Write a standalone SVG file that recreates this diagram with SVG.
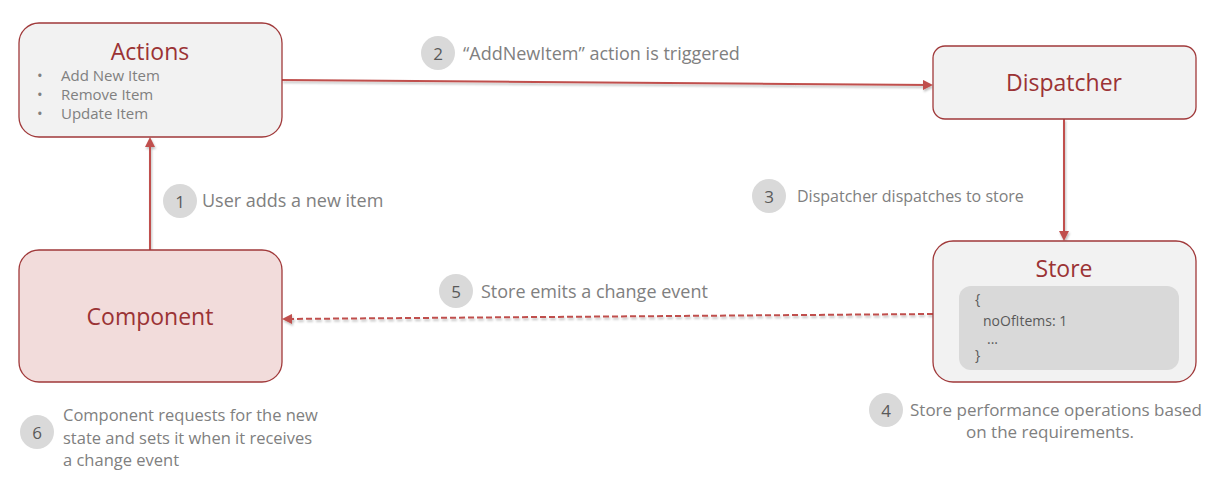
<svg xmlns="http://www.w3.org/2000/svg" width="1223" height="478" viewBox="0 0 1223 478">
<style>
.box{fill:#f2f2f2;stroke:#a0393a;stroke-width:1.3}
.comp{fill:#f2dcdb;stroke:#a0393a;stroke-width:1.3}
.title{font-family:"Open Sans","Noto Sans",sans-serif;font-size:23px;fill:#9b3335;text-anchor:middle}
.lbl{font-family:"Open Sans","Noto Sans",sans-serif;font-size:16px;fill:#808080}
.big{font-size:18px}
.mid{font-size:17px}
.bul{font-family:"Open Sans","Noto Sans",sans-serif;font-size:15px;fill:#808080}
.code{font-family:"Open Sans","Noto Sans",sans-serif;font-size:14px;fill:#595959}
.num{font-family:"Open Sans","Noto Sans",sans-serif;font-size:17px;fill:#595959;text-anchor:middle}
.badge{fill:#d9d9d9}
.conn{stroke:#c0504d;stroke-width:2;fill:none}
</style>
<defs>
<marker id="arr" markerWidth="10" markerHeight="10" refX="8" refY="5" orient="auto" markerUnits="userSpaceOnUse">
<path d="M0,0 L10,5 L0,10 z" fill="#c0504d"/>
</marker>
<filter id="sh" x="-5%" y="-50%" width="110%" height="200%">
<feDropShadow dx="1" dy="2" stdDeviation="1.2" flood-color="#000" flood-opacity="0.25"/>
</filter>
</defs>
<g id="connectors" filter="url(#sh)">
<line class="conn" x1="150" y1="250" x2="150" y2="139" marker-end="url(#arr)"/>
<line class="conn" x1="282" y1="80" x2="931" y2="85" marker-end="url(#arr)"/>
<line class="conn" x1="1064" y1="119" x2="1064" y2="239" marker-end="url(#arr)"/>
<line class="conn" x1="933" y1="314" x2="284" y2="319" stroke-dasharray="6,3" marker-end="url(#arr)"/>
</g>
<g id="actions">
<rect class="box" x="19" y="23" width="263" height="114" rx="20"/>
<text class="title" x="150" y="60">Actions</text>
<text class="bul" x="37" y="81">•</text><text class="bul" x="61" y="81">Add New Item</text>
<text class="bul" x="37" y="100">•</text><text class="bul" x="61" y="100">Remove Item</text>
<text class="bul" x="37" y="119">•</text><text class="bul" x="61" y="119">Update Item</text>
</g>
<g id="dispatcher">
<rect class="box" x="933" y="46" width="263" height="73" rx="12"/>
<text class="title" x="1064" y="91">Dispatcher</text>
</g>
<g id="store">
<rect class="box" x="933" y="241" width="263" height="141" rx="20"/>
<text class="title" x="1064" y="277">Store</text>
<rect x="959" y="286" width="220" height="84" rx="12" fill="#d9d9d9"/>
<text class="code" x="975" y="304">{</text>
<text class="code" x="983" y="326">noOfItems: 1</text>
<text class="code" x="987" y="344">...</text>
<text class="code" x="975" y="360">}</text>
</g>
<g id="component">
<rect class="comp" x="19" y="250" width="263" height="132" rx="20"/>
<text class="title" x="150" y="325">Component</text>
</g>
<g id="label1">
<circle class="badge" cx="180" cy="201" r="17"/>
<text class="num" x="180" y="208">1</text>
<text class="lbl big" x="202" y="207">User adds a new item</text>
</g>
<g id="label2">
<circle class="badge" cx="438" cy="53" r="17"/>
<text class="num" x="438" y="60">2</text>
<text class="lbl big" x="463" y="60">“AddNewItem” action is triggered</text>
</g>
<g id="label3">
<circle class="badge" cx="769" cy="196" r="17"/>
<text class="num" x="769" y="203">3</text>
<text class="lbl" x="797" y="202">Dispatcher dispatches to store</text>
</g>
<g id="label5">
<circle class="badge" cx="456" cy="291" r="17"/>
<text class="num" x="456" y="298">5</text>
<text class="lbl big" x="481" y="298">Store emits a change event</text>
</g>
<g id="label4">
<circle class="badge" cx="886" cy="410" r="17"/>
<text class="num" x="886" y="417">4</text>
<text class="lbl mid" x="910" y="416">Store performance operations based</text>
<text class="lbl mid" x="1050" y="438" text-anchor="middle">on the requirements.</text>
</g>
<g id="label6">
<circle class="badge" cx="37" cy="432" r="17"/>
<text class="num" x="37" y="439">6</text>
<text class="lbl" x="63" y="421" style="font-size:16.5px">Component requests for the new</text>
<text class="lbl" x="63" y="444" style="font-size:16.5px">state and sets it when it receives</text>
<text class="lbl" x="63" y="466" style="font-size:16.5px">a change event</text>
</g>
</svg>
